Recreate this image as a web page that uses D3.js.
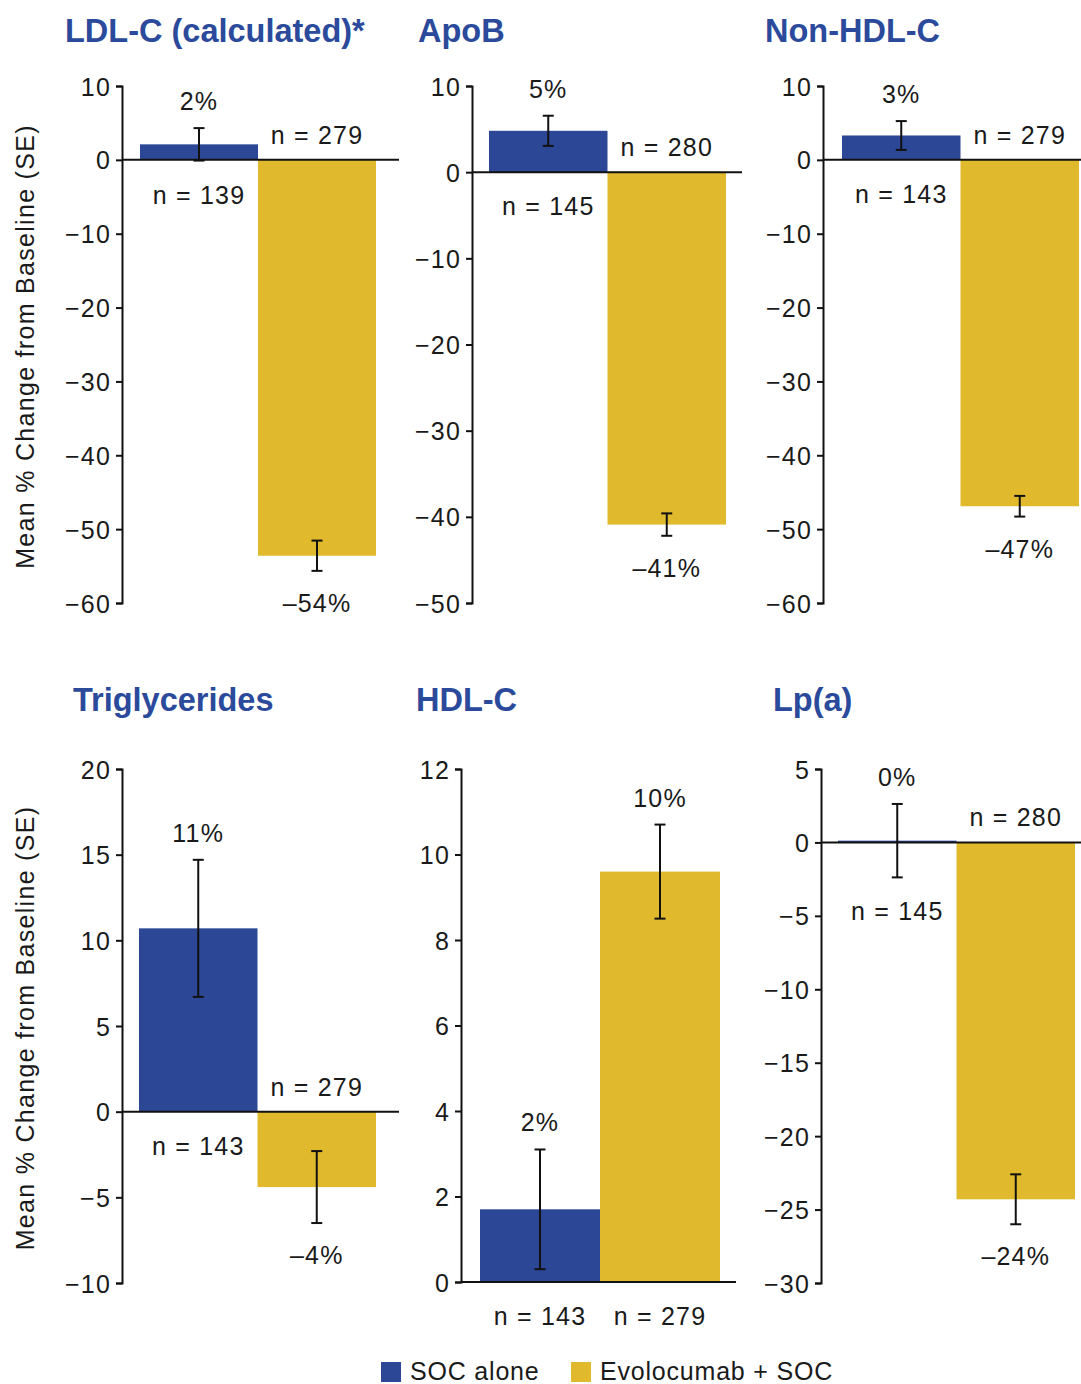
<!DOCTYPE html>
<html>
<head>
<meta charset="utf-8">
<script src="https://cdn.jsdelivr.net/npm/d3@7"></script>
<style>
  html, body { margin: 0; padding: 0; background: #fff; }
  svg { display: block; }
  text { font-family: "Liberation Sans", Arial, Helvetica, sans-serif; fill: #1a1a1a; }
</style>
</head>
<body>
<svg id="chart" width="1081" height="1384"></svg>
<script>
// ---------------- DATA ----------------
const panelTitles = ["LDL-C (calculated)*", "ApoB", "Non-HDL-C", "Triglycerides", "HDL-C", "Lp(a)"];
const seriesNames = ["SOC alone", "Evolocumab + SOC"];
const socMean = [2.1, 4.8, 3.3, 10.7, 1.7, 0.12];
const socSE   = [2.2, 1.75, 1.95, 4.0, 1.4, 2.5];
const evoMean = [-53.6, -40.9, -46.9, -4.4, 9.6, -24.3];
const evoSE   = [2.05, 1.3, 1.4, 2.1, 1.1, 1.7];
const socLabels = ["2%", "5%", "3%", "11%", "2%", "0%"];
const evoLabels = ["\u201354%", "\u201341%", "\u201347%", "\u20134%", "10%", "\u201324%"];
const socN = [139, 145, 143, 143, 143, 145];
const evoN = [279, 280, 279, 279, 279, 280];
const yDomains = [[-60, 10], [-50, 10], [-60, 10], [-10, 20], [0, 12], [-30, 5]];
const tickSteps = [10, 10, 10, 5, 2, 5];
const yAxisTitle = "Mean % Change from Baseline (SE)";

// ---------------- LAYOUT ----------------
const layout = [
  { ax: 122, b0: 140, b1: 376, lineEnd: 399, top: 86,  bot: 603,  titleX: 65,  titleY: 42,  yLabel: true },
  { ax: 472, b0: 489, b1: 726, lineEnd: 742, top: 86,  bot: 603,  titleX: 418, titleY: 42,  yLabel: false },
  { ax: 823, b0: 842, b1: 1079, lineEnd: 1081, top: 86, bot: 603, titleX: 765, titleY: 42,  yLabel: false },
  { ax: 122, b0: 139, b1: 376, lineEnd: 399, top: 769, bot: 1283, titleX: 73,  titleY: 711, yLabel: true },
  { ax: 461, b0: 480, b1: 720, lineEnd: 736, top: 769, bot: 1282, titleX: 416, titleY: 711, yLabel: false },
  { ax: 821, b0: 838, b1: 1075, lineEnd: 1081, top: 769, bot: 1283, titleX: 773, titleY: 711, yLabel: false }
];
const colors = { soc: "#2c4795", evo: "#e1b92c", title: "#2b4a9b" };
const FS = 25;            // body font size
const LS = "1.2px";       // letter spacing
const half = FS * 0.36;   // half cap height, for centering

const svg = d3.select("#chart");
const minus = s => s.replace(/-/g, "\u2013");

panelTitles.forEach((title, i) => {
  const L = layout[i];
  const g = svg.append("g");
  const [lo, hi] = yDomains[i];
  const y = d3.scaleLinear().domain([lo, hi]).range([L.bot, L.top]);
  const x = d3.scaleBand().domain(seriesNames).range([L.b0, L.b1]).padding(0);

  // title
  g.append("text").attr("x", L.titleX).attr("y", L.titleY)
    .attr("font-size", 32.5).attr("font-weight", "bold")
    .style("fill", colors.title).text(title);

  // bars
  const bars = [
    { name: seriesNames[0], v: socMean[i], se: socSE[i], lab: socLabels[i], n: socN[i], c: colors.soc },
    { name: seriesNames[1], v: evoMean[i], se: evoSE[i], lab: evoLabels[i], n: evoN[i], c: colors.evo }
  ];
  g.selectAll("rect.bar").data(bars).enter().append("rect")
    .attr("class", "bar")
    .attr("x", d => x(d.name))
    .attr("width", x.bandwidth())
    .attr("y", d => y(Math.max(0, d.v)))
    .attr("height", d => Math.abs(y(d.v) - y(0)))
    .attr("fill", d => d.c);

  // y axis
  const ticks = d3.range(lo, hi + tickSteps[i] / 2, tickSteps[i]);
  const axis = d3.axisLeft(y).tickValues(ticks).tickSizeOuter(0).tickSize(6).tickPadding(5)
    .tickFormat(d => minus(d3.format("d")(d)));
  const ag = g.append("g").attr("transform", `translate(${L.ax},0)`).call(axis);
  ag.select(".domain").attr("stroke", "#111").attr("stroke-width", 2);
  ag.selectAll(".tick line").attr("stroke", "#111").attr("stroke-width", 2);
  ag.selectAll(".tick text").attr("font-size", FS).attr("font-family", "Liberation Sans, Arial, sans-serif")
    .style("letter-spacing", LS).attr("fill", "#1a1a1a").attr("dy", null).attr("y", half);

  // zero line
  g.append("line").attr("x1", L.ax).attr("x2", L.lineEnd)
    .attr("y1", y(0)).attr("y2", y(0)).attr("stroke", "#111").attr("stroke-width", 2);

  // error bars
  const cap = 5.5;
  bars.forEach(d => {
    const cx = x(d.name) + x.bandwidth() / 2;
    const eg = g.append("g").attr("stroke", "#111").attr("stroke-width", 2);
    eg.append("line").attr("x1", cx).attr("x2", cx).attr("y1", y(d.v + d.se)).attr("y2", y(d.v - d.se));
    eg.append("line").attr("x1", cx - cap).attr("x2", cx + cap).attr("y1", y(d.v + d.se)).attr("y2", y(d.v + d.se));
    eg.append("line").attr("x1", cx - cap).attr("x2", cx + cap).attr("y1", y(d.v - d.se)).attr("y2", y(d.v - d.se));

    // percent label
    const pcY = d.v >= 0 ? y(d.v + d.se) - 27 : y(d.v - d.se) + 32;
    g.append("text").attr("x", cx).attr("y", pcY + half).attr("text-anchor", "middle")
      .attr("font-size", FS).style("letter-spacing", LS).text(d.lab);

    // n label
    let nY;
    if (d.v >= 0) {
      nY = Math.max(y(0), y(d.v - d.se)) + 34;
    } else {
      nY = y(0) - 25;
    }
    g.append("text").attr("x", cx).attr("y", nY + half).attr("text-anchor", "middle")
      .attr("font-size", FS).style("letter-spacing", LS).text("n = " + d.n);
  });

  // y axis title
  if (L.yLabel) {
    const cy = (L.top + L.bot) / 2 + 2;
    svg.append("text").attr("transform", `translate(34,${cy}) rotate(-90)`)
      .attr("text-anchor", "middle").attr("font-size", FS).style("letter-spacing", "1.3px")
      .text(yAxisTitle);
  }
});

// legend
const legend = svg.append("g");
const legendItems = [
  { name: seriesNames[0], c: colors.soc, x: 381 },
  { name: seriesNames[1], c: colors.evo, x: 571 }
];
legendItems.forEach(it => {
  legend.append("rect").attr("x", it.x).attr("y", 1362).attr("width", 20).attr("height", 20).attr("fill", it.c);
  legend.append("text").attr("x", it.x + 29).attr("y", 1380).attr("font-size", FS)
    .style("letter-spacing", "0.8px").text(it.name);
});
</script>
</body>
</html>
